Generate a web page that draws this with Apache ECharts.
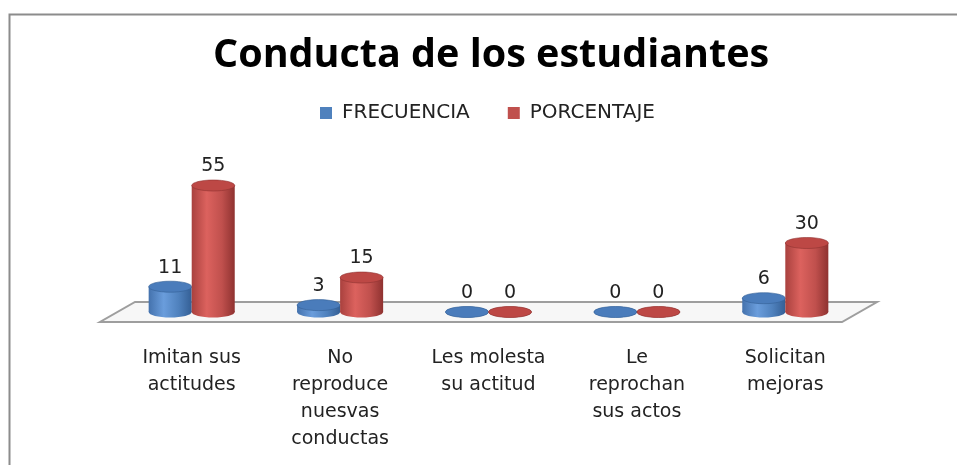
<!DOCTYPE html>
<html>
<head>
<meta charset="utf-8">
<script src="https://cdn.jsdelivr.net/npm/echarts@6/dist/echarts.min.js"></script>
<style>
  html, body { margin: 0; padding: 0; background: #fff; }
  #chart { width: 957px; height: 465px; }
</style>
</head>
<body>
<div id="chart"></div>
<script>
// datos
const categories = ['Imitan sus\nactitudes', 'No\nreproduce\nnuesvas\nconductas', 'Les molesta\nsu actitud', 'Le\nreprochan\nsus actos', 'Solicitan\nmejoras'];
const frecuencia = [11, 3, 0, 0, 6];
const porcentaje = [55, 15, 0, 0, 30];
const seriesNames = ['FRECUENCIA', 'PORCENTAJE'];

const chart = echarts.init(document.getElementById('chart'), null, { renderer: 'canvas' });

// cilindro tipo excel 3d
function cylinder(side, col) {
  return function (params, api) {
    const x = api.value(0), v = api.value(1);
    const base = api.coord([x, 0]);
    const top = api.coord([x, v]);
    const band = api.size([1, 0])[0];
    const rx = band * 0.145;
    const ry = 5.5;
    const cx = base[0] + side * rx;
    const grad = {
      type: 'linear', x: 0, y: 0, x2: 1, y2: 0,
      colorStops: [
        { offset: 0, color: col.edge },
        { offset: 0.35, color: col.light },
        { offset: 0.7, color: col.main },
        { offset: 1, color: col.dark }
      ]
    };
    return {
      type: 'group',
      children: [
        { type: 'ellipse', shape: { cx: cx, cy: base[1], rx: rx, ry: ry }, style: { fill: grad } },
        { type: 'rect', shape: { x: cx - rx, y: top[1], width: rx * 2, height: base[1] - top[1] }, style: { fill: grad } },
        { type: 'ellipse', shape: { cx: cx, cy: top[1], rx: rx, ry: ry }, style: { fill: col.top, stroke: col.dark, lineWidth: 0.6 } },
        { type: 'text', style: { x: cx, y: top[1] - 19, text: String(v), align: 'center', verticalAlign: 'middle',
            font: '19px "DejaVu Sans"', fill: '#222' } }
      ]
    };
  };
}

// piso en perspectiva
function floor(params, api) {
  const cs = params.coordSys;
  const y0 = api.coord([0, 0])[1];
  const l = cs.x, r = cs.x + cs.width, d = 17.5, h = 10;
  return {
    type: 'polygon',
    shape: { points: [[l - d, y0 + h], [r - d, y0 + h], [r + d, y0 - h], [l + d, y0 - h]] },
    style: { fill: '#f7f7f7', stroke: '#9e9e9e', lineWidth: 2 },
    silent: true
  };
}

const blue = { edge: '#4472ad', light: '#6a9ddc', main: '#4f81bd', dark: '#345f95', top: '#4a7cbb' };
const red = { edge: '#a9413e', light: '#dc625e', main: '#c0504d', dark: '#8f3230', top: '#bd4845' };

const option = {
  backgroundColor: '#fff',
  title: {
    text: 'Conducta de los estudiantes',
    left: 208, top: 31,
    textStyle: { fontFamily: 'Open Sans', fontWeight: 'bold', fontSize: 39.5, color: '#000' }
  },
  legend: {
    data: seriesNames,
    left: 315, top: 98,
    icon: 'rect', itemWidth: 12, itemHeight: 12, itemGap: 38,
    textStyle: { fontFamily: 'DejaVu Sans', fontSize: 20, color: '#222', padding: [0, 0, 0, 5] }
  },
  graphic: [{
    type: 'rect', left: 7, top: 12, z: -10,
    shape: { width: 1000, height: 500 },
    style: { fill: 'none', stroke: '#8c8c8c', lineWidth: 2 }
  }],
  grid: { left: 117.5, right: 97.5, top: 174, bottom: 153 },
  xAxis: {
    type: 'category',
    data: categories,
    axisLine: { show: false }, axisTick: { show: false },
    axisLabel: { interval: 0, margin: 33, fontFamily: 'DejaVu Sans', fontSize: 19, lineHeight: 27, color: '#222', align: 'center' }
  },
  yAxis: { type: 'value', min: 0, max: 60, show: false, splitLine: { show: false } },
  series: [
    { type: 'custom', name: 'floor', renderItem: floor, data: [[0, 0]], z: 1, silent: true },
    { type: 'custom', name: seriesNames[0], renderItem: cylinder(-1, blue), itemStyle: { color: '#4f81bd' },
      data: frecuencia.map((v, i) => [i, v]), z: 2 },
    { type: 'custom', name: seriesNames[1], renderItem: cylinder(1, red), itemStyle: { color: '#c0504d' },
      data: porcentaje.map((v, i) => [i, v]), z: 3 }
  ]
};

chart.setOption(option);
</script>
</body>
</html>
